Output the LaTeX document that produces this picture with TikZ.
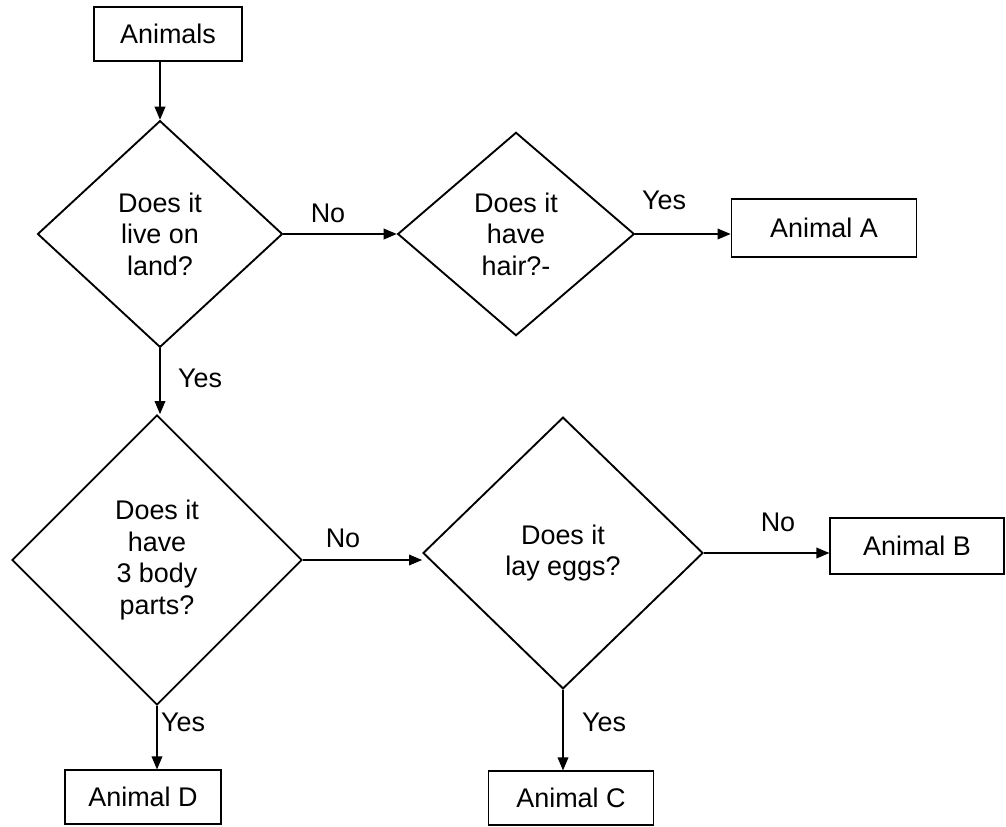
\documentclass[tikz,border=0pt]{standalone}
\usepackage{fontspec}
\setmainfont{Liberation Sans}
\usepackage{tikz}
\usetikzlibrary{arrows,shapes}

\tikzset{
  box/.style={draw, line width=1.6pt, rectangle, minimum height=1.6cm, font=\fontsize{23}{26}\selectfont},
  ask/.style={draw, line width=1.6pt, diamond, inner sep=0pt, align=center, font=\fontsize{23}{27}\selectfont},
  lbl/.style={font=\fontsize{23}{26}\selectfont, inner sep=0pt},
  go/.style={line width=1.6pt, -triangle 45}
}

\begin{document}
\begin{tikzpicture}[x=0.03cm, y=-0.03cm]
\useasboundingbox (0,0) rectangle (1006,826);

\node[box, minimum width=4.45cm] (animals) at (168,34) {Animals};
\node[ask, minimum width=7.35cm, minimum height=6.8cm] (land) at (160,234) {Does it\\live on\\land?};
\node[ask, minimum width=7.1cm, minimum height=6.1cm] (hair) at (516,234) {Does it\\have\\hair?-};
\node[box, minimum width=5.55cm, minimum height=1.75cm] (anA) at (824,228) {Animal A};
\node[ask, minimum width=8.7cm, minimum height=8.7cm] (parts) at (157,560) {Does it\\have\\3 body\\parts?};
\node[ask, minimum width=8.4cm, minimum height=8.15cm] (eggs) at (563,553) {Does it\\lay eggs?};
\node[box, minimum width=5.2cm, minimum height=1.7cm] (anB) at (917,546) {Animal B};
\node[box, minimum width=4.95cm] (anC) at (571,798) {Animal C};
\node[box, minimum width=4.7cm] (anD) at (143,797) {Animal D};

\draw[go] (animals.south-|land.north) -- (land.north);
\draw[go] (land.east) -- (hair.west);
\draw[go] (hair.east) -- (anA.west|-hair.east);
\draw[go] (land.south) -- (land.south|-parts.north);
\draw[go] (parts.east) -- (eggs.west|-parts.east);
\draw[go] (eggs.east) -- (anB.west|-eggs.east);
\draw[go] (eggs.south) -- (anC.north-|eggs.south);
\draw[go] (parts.south) -- (anD.north-|parts.south);

\node[lbl] (no1) at (328,213) {No};
\node[lbl] (yes1) at (664,200) {Yes};
\node[lbl] (yes2) at (200,378) {Yes};
\node[lbl] (no2) at (343,538) {No};
\node[lbl] (no3) at (778,522) {No};
\node[lbl] (yes3) at (604,722) {Yes};
\node[lbl] (yes4) at (183,722) {Yes};
\end{tikzpicture}
\end{document}
